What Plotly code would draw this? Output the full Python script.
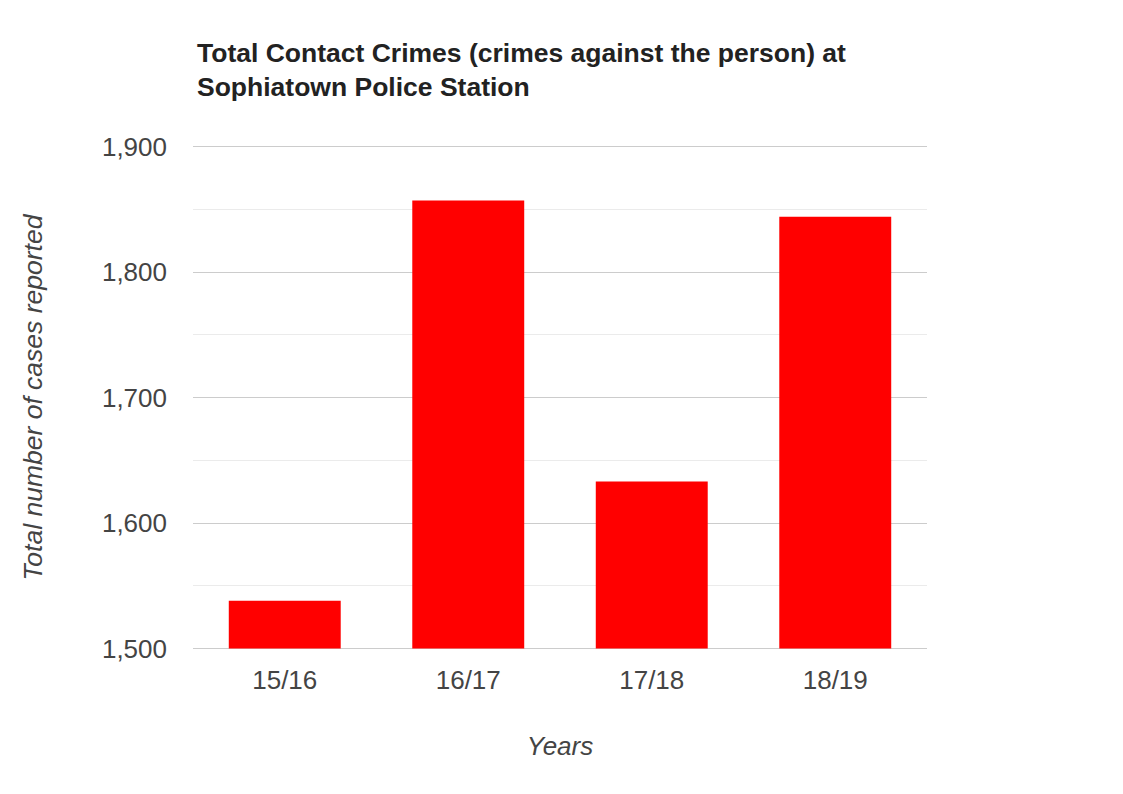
import plotly.graph_objects as go

# values
years = ['15/16', '16/17', '17/18', '18/19']
cases = [1538, 1857, 1633, 1844]
y_ticks = [1500, 1600, 1700, 1800, 1900]

W, H = 1123, 794
FONT = 'Arial, Liberation Sans, sans-serif'
BASE = y_ticks[0]

fig = go.Figure()

# bars start at the 1,500 baseline like the original chart
fig.add_trace(go.Bar(
    x=years,
    y=[c - BASE for c in cases],
    base=BASE,
    customdata=cases,
    hovertemplate='%{x}: %{customdata:,}<extra></extra>',
    marker=dict(color='#ff0000', line=dict(width=0)),
    width=0.61,
    showlegend=False,
))

fig.update_layout(
    width=W,
    height=H,
    paper_bgcolor='white',
    plot_bgcolor='white',
    # small padding on the range so the 1,500 / 1,900 grid lines are drawn
    margin=dict(l=185, r=204, t=135.5, b=150.5),
    title=dict(
        text='<b>Total Contact Crimes (crimes against the person) at<br>Sophiatown Police Station</b>',
        x=189 / W, xref='container', xanchor='left',
        y=1 - 54 / H, yref='container', yanchor='top',
        font=dict(family=FONT, size=26.5, color='#222222'),
    ),
    font=dict(family=FONT, color='#444444'),
)

fig.update_xaxes(
    type='category',
    showgrid=False,
    showline=False,
    ticks='',
    ticklabelstandoff=11,
    tickfont=dict(size=26, color='#444444'),
    title=dict(text='<i>Years</i>', font=dict(size=26, color='#444444'), standoff=42),
)

fig.update_yaxes(
    range=[y_ticks[0] - 2, y_ticks[-1] + 2],
    tickvals=y_ticks,
    tickformat=',',
    showgrid=True,
    gridcolor='#cccccc',
    gridwidth=1,
    zeroline=False,
    showline=False,
    ticks='',
    ticklabelstandoff=25,
    minor=dict(dtick=50, showgrid=True, gridcolor='#ebebeb', gridwidth=1),
    tickfont=dict(size=26, color='#444444'),
    title=dict(text='<i>Total number of cases reported</i>',
               font=dict(size=26.5, color='#444444'), standoff=51),
)

fig.write_html('out.html')
